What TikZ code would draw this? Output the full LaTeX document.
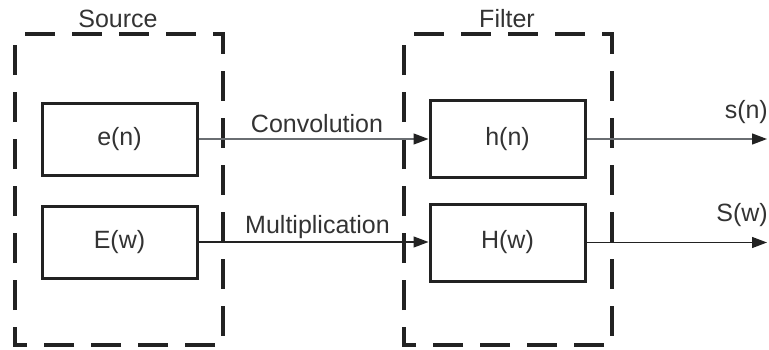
\documentclass[tikz,border=0pt]{standalone}
\usepackage{fontspec}
\setmainfont{Liberation Sans}
\usetikzlibrary{arrows.meta}
\definecolor{txt}{HTML}{333333}
\definecolor{edge}{HTML}{222222}
\definecolor{wire}{HTML}{6A6E72}
\begin{document}
\begin{tikzpicture}[x=1pt,y=-1pt,
  every node/.style={font=\fontsize{25}{30}\selectfont, text=txt},
  blk/.style={draw=edge, line width=3pt, minimum width=155pt, inner sep=0pt},
  frame/.style={draw=edge, line width=3.5pt, dash pattern=on 30pt off 17pt, dash phase=37pt},
  sig/.style={line width=1.3pt, -{Triangle[length=15pt,width=11pt,color=edge]}},
  lbl/.style={anchor=base, inner sep=0pt}]
\useasboundingbox (0,0) rectangle (769,349);

% source and filter groups
\draw[frame] (15,34) -- (223,34) -- (223,345) -- (15,345) -- cycle;
\draw[frame] (404,34) -- (612,34) -- (612,345) -- (404,345) -- cycle;
\node[lbl] (srclbl) at (118,27) {Source};
\node[lbl] (fltlbl) at (507,27) {Filter};

% blocks
\node[blk, minimum height=72pt] (e) at (119.5,139) {e(n)};
\node[blk, minimum height=72pt] (E) at (119.5,242) {E(w)};
\node[blk, minimum height=77pt] (h) at (507.5,139) {h(n)};
\node[blk, minimum height=77pt] (H) at (507.5,242.5) {H(w)};

% outputs
\coordinate (sout) at (767,139);
\coordinate (Sout) at (767,242.5);

% connections
\draw[sig, draw=wire] (e.east) -- (h.west |- e.east);
\draw[sig, draw=edge] (E.east) -- (H.west |- E.east);
\draw[sig, draw=wire] (h.east) -- (sout);
\draw[sig, draw=edge] (H.east) -- (Sout);

% signal labels
\node[lbl] (conv) at (317,132) {Convolution};
\node[lbl] (mult) at (317.5,233) {Multiplication};
\node[anchor=base east, inner sep=0pt] (sn) at (768,118) {s(n)};
\node[anchor=base east, inner sep=0pt] (Sw) at (768,221) {S(w)};
\end{tikzpicture}
\end{document}
